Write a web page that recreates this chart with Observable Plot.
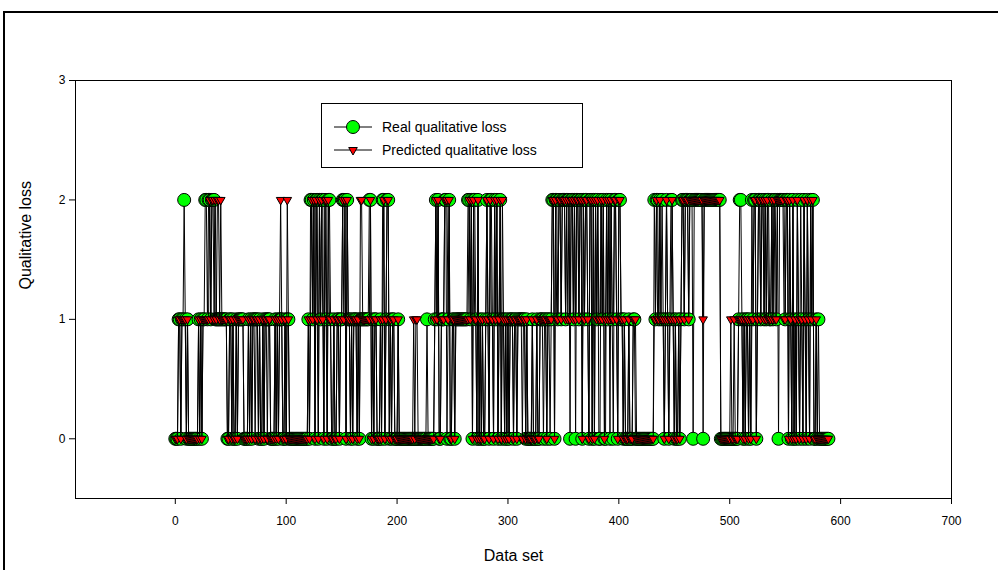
<!DOCTYPE html>
<html><head><meta charset="utf-8">
<script src="https://cdn.jsdelivr.net/npm/d3@7"></script>
<script src="https://cdn.jsdelivr.net/npm/@observablehq/plot@0.6"></script>
<style>
html,body{margin:0;padding:0;background:#fff;overflow:hidden;}
#wrap{position:relative;width:998px;height:570px;font-family:"Liberation Sans",Arial,sans-serif;}
#outer{position:absolute;left:3px;top:11px;width:1100px;height:700px;border:2px solid #000;box-sizing:border-box;pointer-events:none;}
#legend{position:absolute;left:321px;top:103px;width:262px;height:65px;border:1px solid #000;background:#fff;box-sizing:border-box;}
</style></head><body>
<div id="wrap"><div id="chart"></div><div id="outer"></div><div id="legend"></div></div>
<script>
// Real qualitative loss, one digit per data set (index 0..589), 10 per group
const realRows = [
  "0001101121 0100000000 0101011221 2212221111 1111111001",
  "1010010111 1100001010 1111101001 0111110000 1010111001",
  "0110000000 0000000000 1022120220 2122021022 1001001101",
  "1222021101 0111010111 1111122010 1100010220 1220101100",
  "0100000000 0000000000 0000000100 0000121200 1112201200",
  "1101111111 1111221202 2102010100 1210221021 2012011010",
  "1011101101 1111110100 0010001001 1101101101 2202212212",
  "2212220221 2022122021 2210220202 1200212002 1202102210",
  "2211010001 0001100000 0000000000 0021221212 1012101221",
  "0100101221 2221222022 2222220222 2222222222 2200000000",
  "0000000012 2101011010 2122012212 2121221121 2212022222",
  "1220210201 0210210210 2102120010 1000000000"
];
// Predicted qualitative loss
const predRows = [
  "0001101111 0100000000 0101011111 1212212122 1211111001",
  "1010010111 1100001010 1101101001 0110110000 1010121001",
  "0210000000 0000000000 1012120210 2121022021 1001001101",
  "1212021101 0111010221 1111112010 1100010120 1220101100",
  "0100000000 0000010110 0000000000 0000121200 1112221200",
  "1101111111 1111121202 1102010100 1210211021 2012021010",
  "1011101101 1110110100 0010001001 1111101111 2202112212",
  "2212121221 2122122021 2210220202 1211212012 1212112210",
  "2211010001 0001110000 0000000000 0011211211 1012101121",
  "0100101221 2221222222 2222221222 2222222222 2200000000",
  "0100100011 1101011010 1122012212 2121211121 2112222221",
  "1220210201 0210110210 2102120010 0000000000"
];
const xTicks = [0, 100, 200, 300, 400, 500, 600, 700];
const yTicks = [0, 1, 2, 3];
const seriesNames = ["Real qualitative loss", "Predicted qualitative loss"];

const realVals = realRows.join("").replace(/\s/g, "").split("").map(Number);
const predVals = predRows.join("").replace(/\s/g, "").split("").map(Number);
const data = realVals.map((v, i) => ({i, real: v, pred: predVals[i]}));

const font = "Liberation Sans, Arial, sans-serif";
const chart = Plot.plot({
  width: 998, height: 570,
  marginLeft: 75, marginRight: 47, marginTop: 80, marginBottom: 72,
  style: {fontFamily: font, fontSize: "12px", background: "white", color: "black"},
  x: {domain: [-90, 700], ticks: xTicks, tickSize: 6, tickPadding: 12, tickFormat: "d", label: null},
  y: {domain: [-0.5, 3], ticks: yTicks, tickSize: 6, tickPadding: 4, tickFormat: "d", label: null},
  marks: [
    Plot.line(data, {x: "i", y: "real", stroke: "black", strokeWidth: 1}),
    Plot.dot(data, {x: "i", y: "real", r: 6.5, fill: "#00ff00", stroke: "black", strokeWidth: 1}),
    Plot.line(data, {x: "i", y: "pred", stroke: "black", strokeWidth: 1}),
    Plot.dot(data, {x: "i", y: "pred", symbol: "triangle", rotate: 180, r: 3.2, fill: "#ff0000", stroke: "black", strokeWidth: 1}),
    Plot.frame({stroke: "black", strokeWidth: 1}),
    Plot.text(["Data set"], {text: d => d, frameAnchor: "bottom", dy: 62, fontSize: 16, fontFamily: font}),
    Plot.text(["Qualitative loss"], {text: d => d, frameAnchor: "left", dx: -50, rotate: -90, fontSize: 16, fontFamily: font})
  ]
});
document.getElementById("chart").appendChild(chart);

// Legend
const lg = document.getElementById("legend");
const rowsY = [24, 47];
let svg = `<svg width="262" height="65" xmlns="http://www.w3.org/2000/svg" style="position:absolute;left:-1px;top:-1px">`;
seriesNames.forEach((name, k) => {
  const y = rowsY[k];
  svg += `<line x1="13" x2="51" y1="${y}" y2="${y}" stroke="black" stroke-width="1"/>`;
  if (k === 0) {
    svg += `<circle cx="32" cy="${y}" r="6.5" fill="#00ff00" stroke="black"/>`;
  } else {
    svg += `<path d="M27.7,${y-2.5} L36.3,${y-2.5} L32,${y+5} Z" fill="#ff0000" stroke="black"/>`;
  }
  svg += `<text x="61" y="${y}" dy="0.35em" font-size="14" font-family="${font}">${name}</text>`;
});
svg += `</svg>`;
lg.innerHTML = svg;
</script>
</body></html>
